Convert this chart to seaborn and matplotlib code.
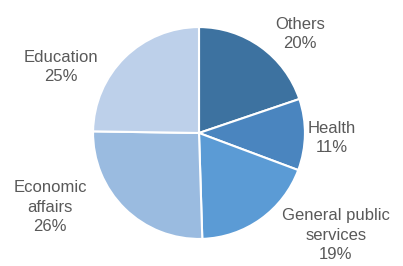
import matplotlib
matplotlib.use("Agg")
import matplotlib.pyplot as plt
import seaborn as sns

categories = ["Others", "Health", "General public\nservices", "Economic\naffairs", "Education"]
shares = [20, 11, 19, 26, 25]
colors = ["#3d72a0", "#4a85bf", "#5b9bd5", "#9abbe0", "#bdd0ea"]

sns.set_theme(style="white")
plt.rcParams['font.family'] = ['Liberation Sans', 'DejaVu Sans']

fig = plt.figure(figsize=(4.03, 2.66), dpi=100)
ax = fig.add_axes([92 / 403, 26 / 266, 214 / 403, 214 / 266])
ax.pie(shares, colors=colors, startangle=90, counterclock=False,
       wedgeprops=dict(edgecolor="white", linewidth=1.5))
ax.set_xlim(-1.01, 1.01)
ax.set_ylim(-1.01, 1.01)
ax.set_aspect("equal")

# label positions in figure pixels (x, y from top)
label_pos = [(300, 34), (332, 138), (336, 235), (50, 207), (61, 67)]
for name, val, (x, y) in zip(categories, shares, label_pos):
    fig.text(x / 403, 1 - y / 266, "%s\n%d%%" % (name, val), ha="center", va="center",
             fontsize=12, color="#595959", linespacing=1.35)

fig.savefig("out.png", dpi=100)
